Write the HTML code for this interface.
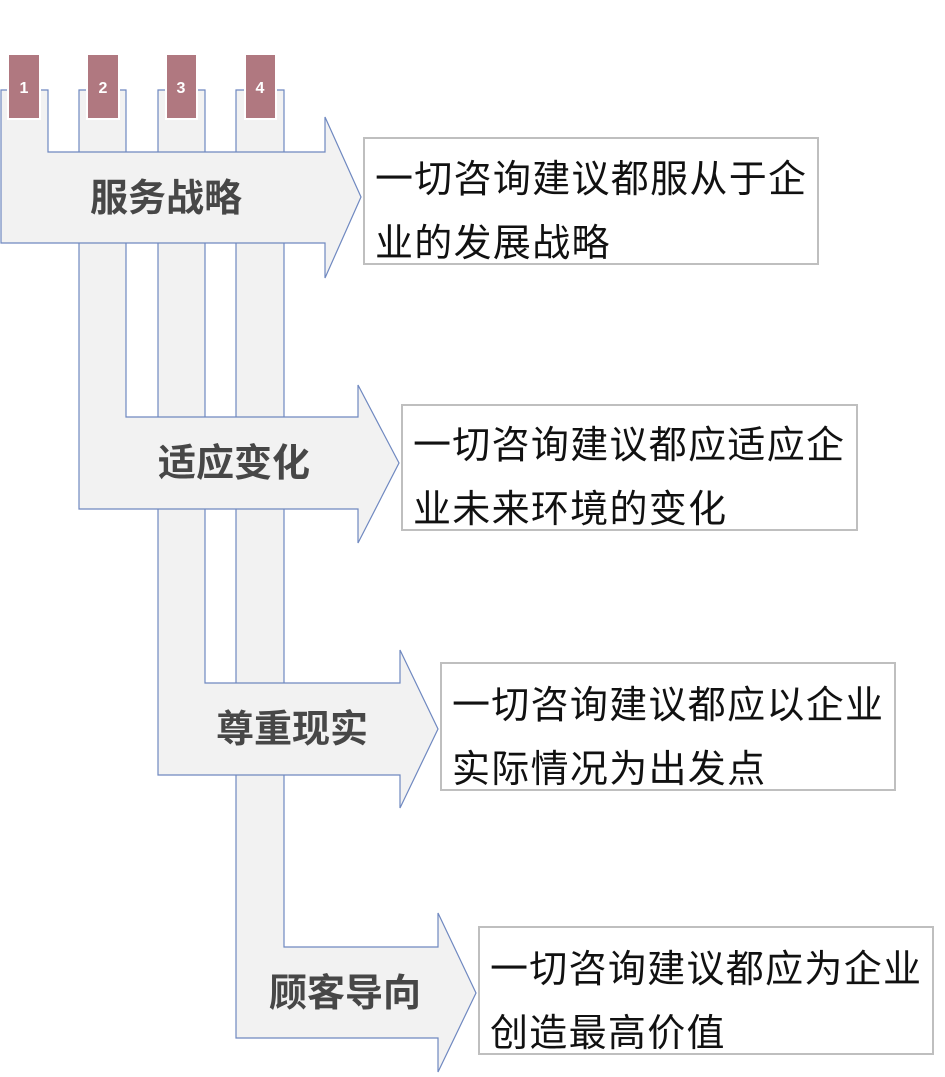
<!DOCTYPE html>
<html><head><meta charset="utf-8"><style>
html,body{margin:0;padding:0;background:#fff}
svg{display:block}
.l{font-family:"Liberation Sans","Noto Sans CJK SC",sans-serif;font-weight:bold;font-size:38px;fill:#474747}
.t{font-family:"Liberation Sans","Noto Sans CJK SC",sans-serif;font-size:38px;letter-spacing:1.3px;fill:#111}
.n{font-family:"Liberation Sans",sans-serif;font-weight:bold;font-size:16px;fill:#fff}
</style></head><body>
<svg width="945" height="1077" xmlns="http://www.w3.org/2000/svg">
<g fill="#f2f2f2" stroke="#6f88c0" stroke-width="1.2">
<polygon points="236,90 284,90 284,947 438,947 438,913 476,993 438,1072 438,1038 236,1038"/>
<polygon points="158,90 205,90 205,683 400,683 400,650 438,729 400,808 400,775 158,775"/>
<polygon points="79,90 126,90 126,417 358,417 358,385 399,463 358,543 358,509 79,509"/>
<polygon points="1,90 48,90 48,152 325,152 325,117 361,197 325,278 325,243 1,243"/>
</g>
<g fill="#b07880" stroke="#fff" stroke-width="2">
<rect x="8" y="54" width="32" height="65"/>
<rect x="87" y="54" width="32" height="65"/>
<rect x="166" y="54" width="31" height="65"/>
<rect x="245" y="54" width="31" height="65"/>
</g>
<text class="n" x="24" y="93" text-anchor="middle">1</text>
<text class="n" x="103" y="93" text-anchor="middle">2</text>
<text class="n" x="181" y="93" text-anchor="middle">3</text>
<text class="n" x="260" y="93" text-anchor="middle">4</text>
<text class="l" x="166" y="211" text-anchor="middle">服务战略</text>
<text class="l" x="234" y="476" text-anchor="middle">适应变化</text>
<text class="l" x="292" y="742" text-anchor="middle">尊重现实</text>
<text class="l" x="345" y="1006" text-anchor="middle">顾客导向</text>
<g fill="#fff" stroke="#bfbfbf" stroke-width="2">
<rect x="364" y="138" width="454" height="126"/>
<rect x="402" y="405" width="455" height="125"/>
<rect x="441" y="663" width="454" height="127"/>
<rect x="479" y="927" width="454" height="127"/>
</g>
<text class="t" x="375" y="192">一切咨询建议都服从于企</text>
<text class="t" x="375" y="256">业的发展战略</text>
<text class="t" x="413" y="458">一切咨询建议都应适应企</text>
<text class="t" x="413" y="522">业未来环境的变化</text>
<text class="t" x="452" y="718">一切咨询建议都应以企业</text>
<text class="t" x="452" y="782">实际情况为出发点</text>
<text class="t" x="490" y="982">一切咨询建议都应为企业</text>
<text class="t" x="490" y="1046">创造最高价值</text>
</svg>
</body></html>
